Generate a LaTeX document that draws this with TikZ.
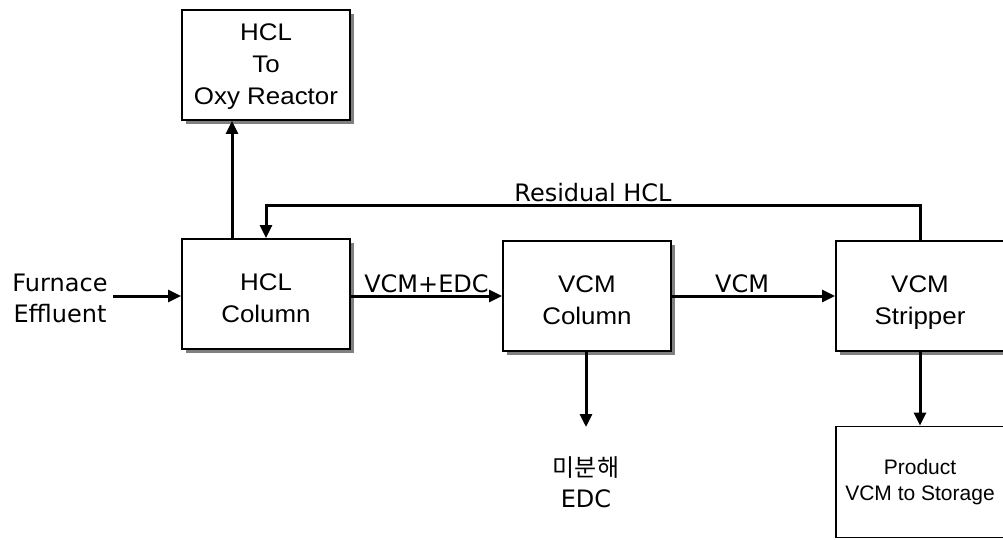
\documentclass[tikz,border=0pt]{standalone}
\usepackage{fontspec}
\setmainfont{Liberation Sans}[FakeStretch=1.08]
\newfontfamily\plainfont{Liberation Sans}
\newfontfamily\lblfont{DejaVu Sans}
\newfontfamily\krfont{Noto Sans CJK KR}
\usetikzlibrary{arrows.meta,shadows}
\tikzset{
  unit/.style={draw, line width=1.9pt, fill=white, minimum width=168pt, minimum height=110pt,
    align=center, text height=56pt, text depth=0pt, font=\fontsize{24}{32}\selectfont,
    drop shadow={shadow xshift=4pt, shadow yshift=-4pt, fill=gray, opacity=1}},
  store/.style={draw, line width=1.9pt, fill=white, minimum width=168pt, minimum height=111pt,
    align=center, font=\plainfont\fontsize{21}{26}\selectfont},
  lbl/.style={align=center, inner sep=2pt, font=\lblfont\fontsize{24}{31}\selectfont},
  flow/.style={line width=3pt, ->}
}
\begin{document}
\begin{tikzpicture}[x=1pt, y=-1pt, line join=miter, >={Triangle[length=13pt,width=12pt]}]
\useasboundingbox (0,0) rectangle (1003,540);
\node[unit, text height=84pt, text depth=4pt] (oxy) at (266,65) {HCL\\To\\Oxy Reactor};
\node[unit] (hcl) at (266,294) {HCL\\Column};
\node[unit] (vcmcol) at (587,296) {VCM\\Column};
\node[unit] (strip) at (920,296) {VCM\\Stripper};
\node[store] (prod) at (920,482) {Product\\VCM to Storage};
\node[lbl] (feed) at (60,298) {Furnace\\Effluent};
\node[lbl] (edc) at (586,482) {{\krfont 미분해}\\EDC};
\coordinate (feedend) at (113,296);
\coordinate (edcend) at (586,427);
% main line
\draw[flow] (feedend) -- (feedend -| hcl.west);
\draw[flow] (vcmcol.west -| hcl.east) -- node[lbl, above] {VCM+EDC} (vcmcol.west);
\draw[flow] (vcmcol.east) -- node[lbl, above, pos=0.43] {VCM} (strip.west);
\draw[flow] (strip.south) -- (prod.north);
\draw[flow] (vcmcol.south -| edcend) -- (edcend);
\draw[flow] ([xshift=-34pt]hcl.north) -- ([xshift=-34pt]hcl.north |- oxy.south);
% recycle
\draw[flow] (strip.north) -- ++(0,-35) coordinate (rturn)
  -- node[lbl, above] {Residual HCL} (rturn -| hcl.north) -- (hcl.north);
\end{tikzpicture}
\end{document}
